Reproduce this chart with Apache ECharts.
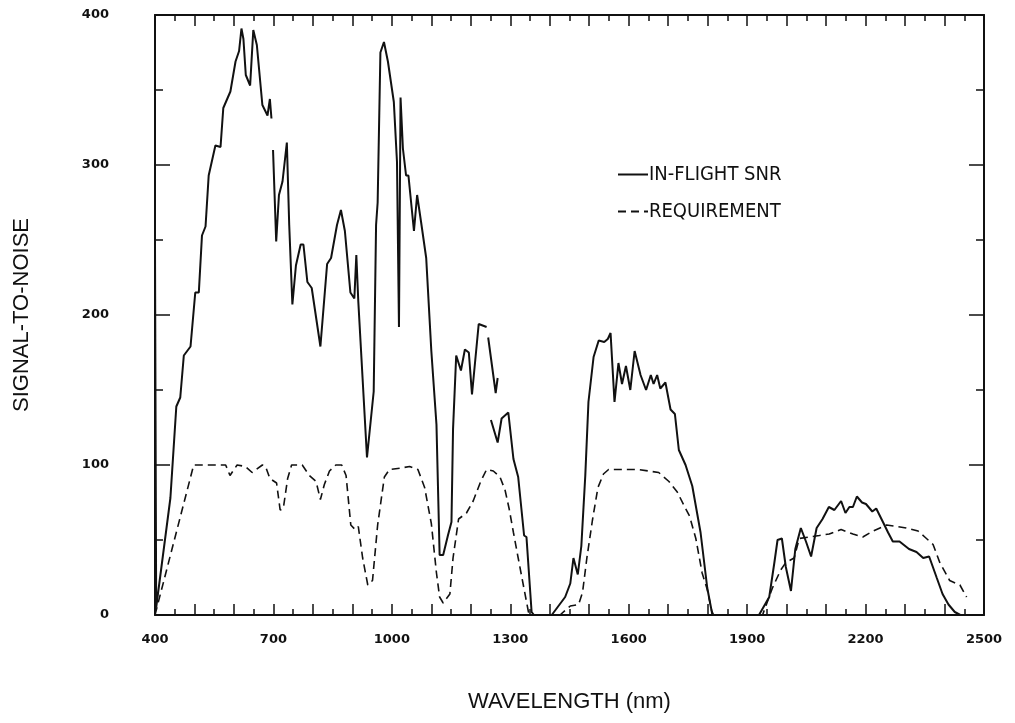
<!DOCTYPE html>
<html>
<head>
<meta charset="utf-8">
<script src="https://cdn.jsdelivr.net/npm/echarts@6/dist/echarts.min.js"></script>
<style>
  html, body { margin: 0; padding: 0; background: #fff; }
  #chart { width: 1015px; height: 723px; }
</style>
</head>
<body>
<div id="chart"></div>
<script>
// wavelength (nm) / signal-to-noise, null = break in the trace
const snrNm = [400, 403, 439, 454, 464, 473, 490, 502, 511, 519, 528, 536, 553, 566, 573, 591, 604, 613, 619, 624,
  630, 641, 649, 658, 672, 685, 691, 695, null, 699, 707, 714, 723, 734, 740, 748, 757, 769, 776, 786,
  797, 819, 836, 846, 861, 871, 881, 895, 905, 910, 915, 937, 954, 960, 964, 971, 980, 990, 1005, 1013,
  1018, 1022, 1028, 1036, 1042, 1056, 1064, 1074, 1087, 1100, 1113, 1121, 1130, 1142, 1151, 1155, 1163, 1175, 1185, 1195,
  1203, 1220, 1240, null, 1244, 1263, 1268, null, 1251, 1268, 1278, 1295, 1308, 1320, 1335, 1341, 1354, 1360, 1405, 1439,
  1452, 1460, 1471, 1480, 1490, 1498, 1511, 1524, 1538, 1547, 1554, 1564, 1574, 1583, 1593, 1604, 1615, 1630, 1644, 1656,
  1663, 1672, 1680, 1693, 1706, 1717, 1727, 1744, 1761, 1782, 1799, 1812, 1930, 1956, 1969, 1977, 1988, 1998, 2011, 2022,
  2036, 2049, 2062, 2076, 2091, 2107, 2121, 2138, 2149, 2159, 2168, 2178, 2191, 2201, 2217, 2227, 2244, 2257, 2269, 2286,
  2310, 2329, 2346, 2361, 2380, 2395, 2410, 2426, 2440, 2455];
const snrVal = [245, 5, 78, 139, 145, 173, 179, 215, 215, 253, 259, 293, 313, 312, 338, 349, 369, 376, 391, 384,
  360, 353, 390, 380, 340, 333, 344, 331, null, 310, 249, 280, 289, 315, 260, 207, 233, 247, 247, 222,
  218, 179, 234, 238, 260, 270, 256, 215, 211, 240, 209, 105, 149, 260, 275, 375, 382, 369, 342, 302,
  192, 345, 311, 293, 293, 256, 280, 262, 238, 176, 127, 40, 40, 53, 62, 124, 173, 163, 177, 175,
  147, 194, 192, null, 185, 148, 158, null, 130, 115, 131, 135, 104, 92, 53, 52, 2, 0, 0, 12,
  21, 38, 27, 46, 93, 142, 172, 183, 182, 184, 188, 142, 168, 154, 166, 150, 176, 160, 150, 160,
  154, 160, 151, 155, 137, 134, 110, 100, 86, 55, 18, 0, 0, 12, 35, 50, 51, 32, 16, 44,
  58, 49, 39, 58, 64, 72, 70, 76, 68, 72, 72, 79, 75, 74, 69, 71, 62, 55, 49, 49,
  44, 42, 38, 39, 25, 14, 7, 2, 0, 0];

const reqNm = [400, 403, 498, 579, 590, 608, 629, 646, 672, 680, 691, 708, 717, 725, 736, 746, 773, 791, 808, 819,
  829, 842, 858, 873, 884, 896, 907, 915, 926, 939, 951, 964, 981, 994, 1024, 1045, 1066, 1083, 1100, 1113,
  1121, 1130, 1147, 1155, 1169, 1189, 1206, 1225, 1240, 1257, 1274, 1287, 1297, 1308, 1320, 1333, 1346, 1352, 1426, 1452,
  1473, 1483, 1494, 1508, 1522, 1536, 1549, 1600, 1625, 1651, 1676, 1702, 1723, 1740, 1754, 1770, 1786, 1799, 1810, 1815,
  1939, 1964, 1985, 1998, 2019, 2032, 2057, 2083, 2108, 2138, 2168, 2193, 2219, 2253, 2278, 2303, 2333, 2350, 2371, 2388,
  2413, 2439, 2456];
const reqVal = [0, 1, 100, 100, 93, 100, 99, 95, 100, 99, 91, 88, 70, 71, 91, 100, 100, 93, 89, 77,
  87, 96, 100, 100, 93, 60, 57, 59, 38, 20, 23, 60, 92, 97, 98, 99, 97, 85, 61, 28,
  12, 8, 14, 38, 64, 68, 76, 89, 97, 96, 92, 83, 71, 55, 38, 20, 2, 0, 0, 6,
  7, 15, 38, 63, 85, 94, 97, 97, 97, 96, 95, 89, 82, 73, 66, 51, 28, 17, 3, 0,
  0, 18, 30, 35, 38, 51, 52, 53, 54, 57, 54, 52, 56, 60, 59, 58, 56, 52, 47, 35,
  23, 20, 12];

const xLabels = [400, 700, 1000, 1300, 1600, 1900, 2200, 2500];
const yLabels = [0, 100, 200, 300, 400];

const pairs = (xs, ys) => xs.map((x, i) => [x, ys[i]]);

const chart = echarts.init(document.getElementById('chart'));

const ink = '#111';
const tickFont = { fontFamily: 'DejaVu Sans', fontWeight: 'bold', fontSize: 13, color: ink };
const boxLine = { show: true, onZero: false, lineStyle: { color: ink, width: 2 } };
const xTick = { inside: true, length: 11, lineStyle: { color: ink, width: 1.5 } };
const xMinor = { show: true, splitNumber: 2, length: 6, lineStyle: { color: ink, width: 1.5 } };
const yTick = { inside: true, length: 15, lineStyle: { color: ink, width: 1.5 } };
const yMinor = { show: true, splitNumber: 2, length: 8, lineStyle: { color: ink, width: 1.5 } };

chart.setOption({
  animation: false,
  backgroundColor: '#fff',
  grid: { left: 155, right: 31, top: 15, bottom: 108 },
  legend: {
    orient: 'vertical',
    left: 612,
    top: 159,
    itemWidth: 30,
    itemHeight: 2,
    itemGap: 16,
    itemStyle: { opacity: 0 },
    textStyle: {
      fontFamily: "'DejaVu Sans Condensed', 'Liberation Sans', sans-serif",
      fontSize: 20, lineHeight: 21, color: ink, padding: [0, 0, 0, -4]
    },
    data: ['IN-FLIGHT SNR', 'REQUIREMENT']
  },
  xAxis: [{
    type: 'value', min: 400, max: 2500, interval: 100,
    name: 'WAVELENGTH (nm)', nameLocation: 'middle', nameGap: 76,
    nameTextStyle: { fontFamily: 'Liberation Sans', fontSize: 22, color: ink },
    axisLine: boxLine, axisTick: xTick, minorTick: xMinor,
    splitLine: { show: false },
    axisLabel: Object.assign({
      margin: 18,
      formatter: v => xLabels.indexOf(v) >= 0 ? String(v) : ''
    }, tickFont)
  }, {
    type: 'value', position: 'top', min: 400, max: 2500, interval: 100,
    axisLine: boxLine, axisTick: xTick, minorTick: xMinor,
    splitLine: { show: false },
    axisLabel: { show: false }
  }],
  yAxis: [{
    type: 'value', min: 0, max: 400, interval: 100,
    name: 'SIGNAL-TO-NOISE', nameLocation: 'middle', nameGap: 122,
    nameTextStyle: { fontFamily: 'Liberation Sans', fontSize: 22, color: ink },
    axisLine: boxLine, axisTick: yTick, minorTick: yMinor,
    splitLine: { show: false },
    axisLabel: Object.assign({
      margin: 46,
      padding: [10, 0, 0, 0],
      formatter: v => yLabels.indexOf(v) >= 0 ? String(v) : ''
    }, tickFont)
  }, {
    type: 'value', position: 'right', min: 0, max: 400, interval: 100,
    axisLine: boxLine, axisTick: yTick, minorTick: yMinor,
    splitLine: { show: false },
    axisLabel: { show: false }
  }],
  series: [{
    name: 'IN-FLIGHT SNR',
    type: 'line',
    symbol: 'none',
    connectNulls: false,
    color: ink,
    lineStyle: { color: ink, width: 2 },
    data: pairs(snrNm, snrVal)
  }, {
    name: 'REQUIREMENT',
    type: 'line',
    symbol: 'none',
    color: ink,
    lineStyle: { color: ink, width: 1.6, type: [8, 5] },
    data: pairs(reqNm, reqVal)
  }]
});
</script>
</body>
</html>
